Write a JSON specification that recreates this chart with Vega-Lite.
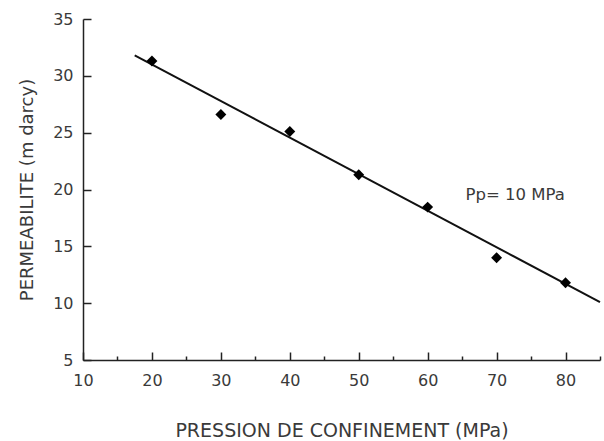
{
  "$schema": "https://vega.github.io/schema/vega-lite/v6.json",
  "width": 517,
  "height": 341,
  "autosize": "none",
  "padding": {"left": 83, "top": 19, "right": 4, "bottom": 81},
  "background": "white",
  "config": {
    "view": {"stroke": null},
    "axis": {"grid": false, "domainColor": "#222", "tickColor": "#222", "labelColor": "#3a3a3a", "titleColor": "#3a3a3a", "labelFont": "DejaVu Sans", "titleFont": "DejaVu Sans", "titleFontWeight": "normal", "domainWidth": 1.5, "tickWidth": 1.5, "labelFlush": false}
  },
  "resolve": {"axis": {"x": "independent"}},
  "datasets": {
    "pts": [
      {"p": 20, "k": 31.3},
      {"p": 30, "k": 26.6},
      {"p": 40, "k": 25.1},
      {"p": 50, "k": 21.3},
      {"p": 60, "k": 18.45},
      {"p": 70, "k": 14.0},
      {"p": 80, "k": 11.8}
    ],
    "fit": [
      {"p": 17.5, "k": 31.8},
      {"p": 85, "k": 10.1}
    ],
    "lab": [{"p": 65.5, "k": 19.5, "t": "Pp= 10 MPa"}]
  },
  "layer": [
    {
      "data": {"name": "fit"},
      "mark": {"type": "line", "color": "#111", "strokeWidth": 2},
      "encoding": {
        "x": {"field": "p", "type": "quantitative", "scale": {"domain": [10, 85], "nice": false, "zero": false},
          "axis": {"orient": "bottom", "title": "PRESSION DE CONFINEMENT (MPa)", "values": [10, 20, 30, 40, 50, 60, 70, 80], "tickSize": -8, "labelPadding": 20, "labelFontSize": 16, "titleFontSize": 19, "titlePadding": 33}},
        "y": {"field": "k", "type": "quantitative", "scale": {"domain": [5, 35], "nice": false, "zero": false},
          "axis": {"title": "PERMEABILITE (m darcy)", "values": [5, 10, 15, 20, 25, 30, 35], "tickSize": -8, "labelPadding": 18, "labelFontSize": 16, "titleFontSize": 18, "titlePadding": 16}}
      }
    },
    {
      "data": {"name": "pts"},
      "mark": {"type": "point", "shape": "diamond", "filled": true, "color": "#000", "size": 120, "opacity": 1},
      "encoding": {
        "x": {"field": "p", "type": "quantitative",
          "axis": {"orient": "bottom", "title": null, "values": [15, 25, 35, 45, 55, 65, 75, 85], "labels": false, "domain": false, "tickSize": -4}},
        "y": {"field": "k", "type": "quantitative"}
      }
    },
    {
      "data": {"name": "lab"},
      "mark": {"type": "text", "align": "left", "baseline": "middle", "font": "DejaVu Sans", "fontSize": 16.5, "color": "#3a3a3a"},
      "encoding": {
        "x": {"field": "p", "type": "quantitative", "axis": null},
        "y": {"field": "k", "type": "quantitative"},
        "text": {"field": "t"}
      }
    }
  ]
}
